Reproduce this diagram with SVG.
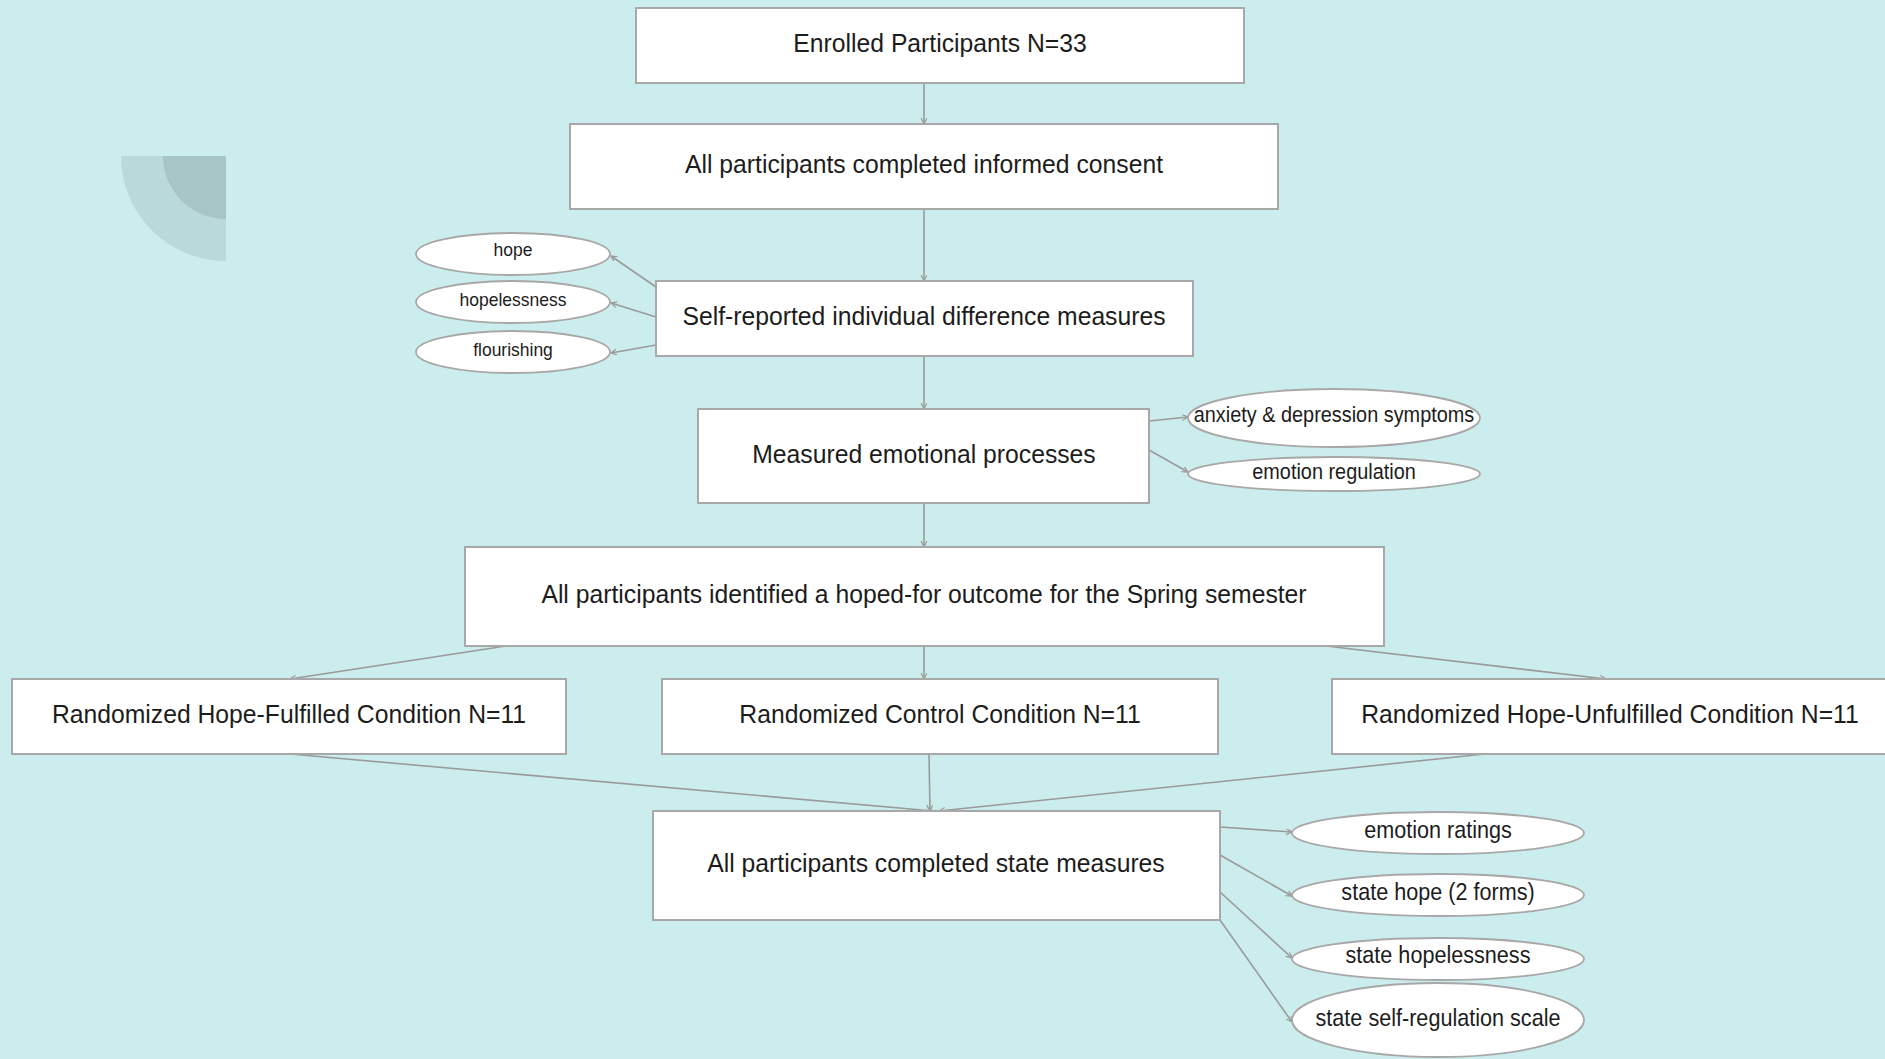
<svg xmlns="http://www.w3.org/2000/svg" width="1885" height="1059" viewBox="0 0 1885 1059">
<defs>
<marker id="ah" markerWidth="8" markerHeight="8" refX="6" refY="3" orient="auto" markerUnits="userSpaceOnUse">
<path d="M0,0 L6,3 L0,6" fill="none" stroke="#9a9a9a" stroke-width="1.2"/>
</marker>
<style>
.box{fill:#ffffff;stroke:#a8a8a8;stroke-width:2}
.ell{fill:#ffffff;stroke:#a8a8a8;stroke-width:1.8}
.t{font-family:"Liberation Sans",Arial,sans-serif;fill:#1c1c1c;text-anchor:middle}
.tb{font-size:26.3px}
.ts{font-size:18.6px}
.tm{font-size:21.6px}
.tl{font-size:24px}
.c{stroke:#9a9a9a;stroke-width:1.6;fill:none;marker-end:url(#ah)}
</style>
</defs>
<rect width="1885" height="1059" fill="#cbedee"/>
<g id="decor">
<path d="M226,156 L121,156 A105,105 0 0 0 226,261 Z" fill="#b9d9db"/>
<path d="M226,156 L163,156 A63,63 0 0 0 226,219 Z" fill="#a7c4c6"/>
</g>
<g id="connectors">
<line class="c" x1="924" y1="83" x2="924" y2="124"/>
<line class="c" x1="924" y1="209" x2="924" y2="281"/>
<line class="c" x1="924" y1="356" x2="924" y2="409"/>
<line class="c" x1="924" y1="503" x2="924" y2="547"/>
<line class="c" x1="506" y1="646" x2="290" y2="679"/>
<line class="c" x1="924" y1="646" x2="924" y2="679"/>
<line class="c" x1="1326" y1="646" x2="1606" y2="679"/>
<line class="c" x1="290" y1="754" x2="933" y2="811"/>
<line class="c" x1="929" y1="754" x2="930" y2="811"/>
<line class="c" x1="1485" y1="754" x2="939" y2="811"/>
<line class="c" x1="656" y1="287" x2="611" y2="256"/>
<line class="c" x1="656" y1="317" x2="611" y2="303"/>
<line class="c" x1="656" y1="345" x2="611" y2="353"/>
<line class="c" x1="1149" y1="421" x2="1188" y2="417"/>
<line class="c" x1="1149" y1="450" x2="1188" y2="472"/>
<line class="c" x1="1220" y1="827" x2="1292" y2="832"/>
<line class="c" x1="1220" y1="855" x2="1292" y2="896"/>
<line class="c" x1="1220" y1="892" x2="1292" y2="958"/>
<line class="c" x1="1220" y1="920" x2="1292" y2="1022"/>
</g>
<g id="n-enrolled"><rect class="box" x="636" y="8" width="608" height="75"/><text class="t tb" transform="translate(940,52) scale(0.94,1)">Enrolled Participants N=33</text></g>
<g id="n-consent"><rect class="box" x="570" y="124" width="708" height="85"/><text class="t tb" transform="translate(924,173) scale(0.94,1)">All participants completed informed consent</text></g>
<g id="n-self"><rect class="box" x="656" y="281" width="537" height="75"/><text class="t tb" transform="translate(924,325) scale(0.94,1)">Self-reported individual difference measures</text></g>
<g id="n-emotional"><rect class="box" x="698" y="409" width="451" height="94"/><text class="t tb" transform="translate(924,462.5) scale(0.94,1)">Measured emotional processes</text></g>
<g id="n-identified"><rect class="box" x="465" y="547" width="919" height="99"/><text class="t tb" transform="translate(924,602.5) scale(0.94,1)">All participants identified a hoped-for outcome for the Spring semester</text></g>
<g id="n-fulfilled"><rect class="box" x="12" y="679" width="554" height="75"/><text class="t tb" transform="translate(289,723) scale(0.94,1)">Randomized Hope-Fulfilled Condition N=11</text></g>
<g id="n-control"><rect class="box" x="662" y="679" width="556" height="75"/><text class="t tb" transform="translate(940,723) scale(0.94,1)">Randomized Control Condition N=11</text></g>
<g id="n-unfulfilled"><rect class="box" x="1332" y="679" width="560" height="75"/><text class="t tb" transform="translate(1610,723) scale(0.94,1)">Randomized Hope-Unfulfilled Condition N=11</text></g>
<g id="n-state"><rect class="box" x="653" y="811" width="567" height="109"/><text class="t tb" transform="translate(936,871.5) scale(0.94,1)">All participants completed state measures</text></g>
<g id="e-hope"><ellipse class="ell" cx="513" cy="254" rx="97" ry="21"/><text class="t ts" transform="translate(513,256) scale(0.94,1)">hope</text></g>
<g id="e-hopelessness"><ellipse class="ell" cx="513" cy="302" rx="97" ry="21"/><text class="t ts" transform="translate(513,305.5) scale(0.94,1)">hopelessness</text></g>
<g id="e-flourishing"><ellipse class="ell" cx="513" cy="352" rx="97" ry="21"/><text class="t ts" transform="translate(513,356) scale(0.94,1)">flourishing</text></g>
<g id="e-anxiety"><ellipse class="ell" cx="1334" cy="418" rx="146" ry="29"/><text class="t tm" transform="translate(1334,422) scale(0.92,1)">anxiety &amp; depression symptoms</text></g>
<g id="e-regulation"><ellipse class="ell" cx="1334" cy="474" rx="146" ry="17"/><text class="t tm" transform="translate(1334,478.5) scale(0.92,1)">emotion regulation</text></g>
<g id="e-ratings"><ellipse class="ell" cx="1438" cy="833" rx="146" ry="21"/><text class="t tl" transform="translate(1438,838) scale(0.9,1)">emotion ratings</text></g>
<g id="e-statehope"><ellipse class="ell" cx="1438" cy="895" rx="146" ry="21"/><text class="t tl" transform="translate(1438,900) scale(0.9,1)">state hope (2 forms)</text></g>
<g id="e-statehopelessness"><ellipse class="ell" cx="1438" cy="959" rx="146" ry="21"/><text class="t tl" transform="translate(1438,963) scale(0.9,1)">state hopelessness</text></g>
<g id="e-selfreg"><ellipse class="ell" cx="1438" cy="1020" rx="146" ry="37"/><text class="t tl" transform="translate(1438,1026) scale(0.9,1)">state self-regulation scale</text></g>
</svg>
